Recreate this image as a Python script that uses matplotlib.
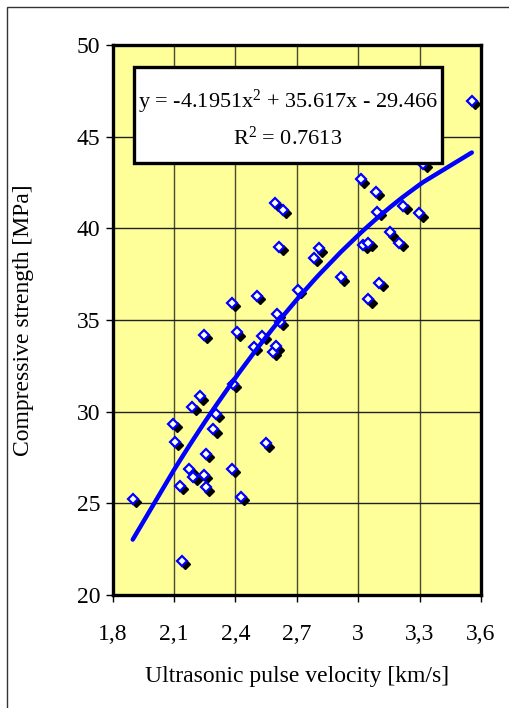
import matplotlib
matplotlib.use("Agg")
import matplotlib.pyplot as plt
from matplotlib.patches import Rectangle
from matplotlib.transforms import offset_copy
import numpy as np

plt.rcParams['font.family'] = ['Liberation Serif', 'DejaVu Serif']
plt.rcParams['mathtext.fontset'] = 'custom'
plt.rcParams['mathtext.rm'] = 'Liberation Serif'
plt.rcParams['mathtext.it'] = 'Liberation Serif:italic'

# --- data ---
velocity = [1.898, 2.137, 2.096, 2.104, 2.129, 2.174, 2.194, 2.190, 2.227, 2.246,
            2.246, 2.255, 2.255, 2.292, 2.305, 2.382, 2.382, 2.386, 2.406, 2.426,
            2.491, 2.504, 2.531, 2.549, 2.583, 2.597, 2.593, 2.602, 2.617, 2.631,
            2.614, 2.705, 2.784, 2.808, 2.914, 3.012, 3.025, 3.049, 3.049, 3.087,
            3.093, 3.103, 3.155, 3.201, 3.220, 3.299, 3.318, 3.555]
strength = [25.23, 21.87, 29.32, 28.36, 25.96, 26.85, 26.45, 30.27, 30.83, 34.20,
            26.54, 27.69, 25.87, 29.03, 29.88, 26.87, 35.92, 31.50, 34.32, 25.36,
            33.54, 36.32, 34.13, 28.27, 33.28, 33.56, 41.40, 35.32, 34.90, 41.00,
            39.00, 36.63, 38.40, 38.91, 37.33, 42.67, 39.09, 39.21, 36.13, 42.00,
            40.91, 37.03, 39.78, 39.21, 41.23, 40.82, 43.50, 46.96]

# trendline coefficients as printed on the chart
coef = [-4.1951, 35.617, -29.466]
r2 = 0.7613

x_ticks = [1.8, 2.1, 2.4, 2.7, 3.0, 3.3, 3.6]
x_tick_labels = ["1,8", "2,1", "2,4", "2,7", "3", "3,3", "3,6"]
y_ticks = [20, 25, 30, 35, 40, 45, 50]

fig = plt.figure(figsize=(5.09, 7.08), dpi=100)
ax = fig.add_axes([0.2214, 0.1596, 0.7236, 0.7768])
ax.set_facecolor('#FFFF99')

# --- grid ---
for xt in x_ticks:
    ax.axvline(xt, color='#4a4a30', linewidth=1.0, zorder=1)
for yt in y_ticks:
    ax.axhline(yt, color='#202020', linewidth=1.0, zorder=1)

# --- points with black drop shadow ---
shadow = offset_copy(ax.transData, fig=fig, x=3.3, y=-3.3, units='dots')
ax.plot(velocity, strength, 'D', markersize=5.2, color='black',
        markeredgecolor='black', transform=shadow, zorder=3)
ax.plot(velocity, strength, 'D', markersize=5.2, markerfacecolor='white',
        markeredgecolor='#0000FF', markeredgewidth=1.6, linestyle='none', zorder=4)

# --- trendline ---
xs = np.sort(velocity)
ax.plot(xs, np.polyval(coef, xs), color='#0000FF', linewidth=3.2,
        solid_capstyle='round', zorder=5)

ax.set_xlim(1.8, 3.6)
ax.set_ylim(20, 50)
ax.set_xticks(x_ticks)
ax.set_xticklabels(x_tick_labels)
ax.set_yticks(y_ticks)
ax.tick_params(axis='both', direction='out', length=5, width=1, labelsize=17,
               pad=4)
ax.tick_params(axis='x', pad=16)

for sp in ax.spines.values():
    sp.set_linewidth(2.4)
    sp.set_zorder(6)

ax.set_xlabel("Ultrasonic pulse velocity [km/s]", fontsize=17, labelpad=15)
ax.set_ylabel("Compressive strength [MPa]", fontsize=17, labelpad=31)

# --- equation box ---
ax.add_patch(Rectangle((0.058, 0.785), 0.836, 0.175, transform=ax.transAxes,
                       facecolor='white', edgecolor='black', linewidth=2.4, zorder=7))
ax.text(0.476, 0.897, "y = %.4fx$^2$ + %.3fx - %.3f" % (coef[0], coef[1], -coef[2]),
        transform=ax.transAxes, ha='center', va='center', fontsize=16, zorder=8)
ax.text(0.476, 0.830, "R$^2$ = %.4f" % r2, transform=ax.transAxes,
        ha='center', va='center', fontsize=16, zorder=8)

# --- outer chart border ---
fig.patches.append(Rectangle((7 / 509, -0.1), 1.2, 1.1 - 7 / 708, transform=fig.transFigure,
                             fill=False, edgecolor='#333333', linewidth=1.0))

fig.savefig("out.png", dpi=100)
